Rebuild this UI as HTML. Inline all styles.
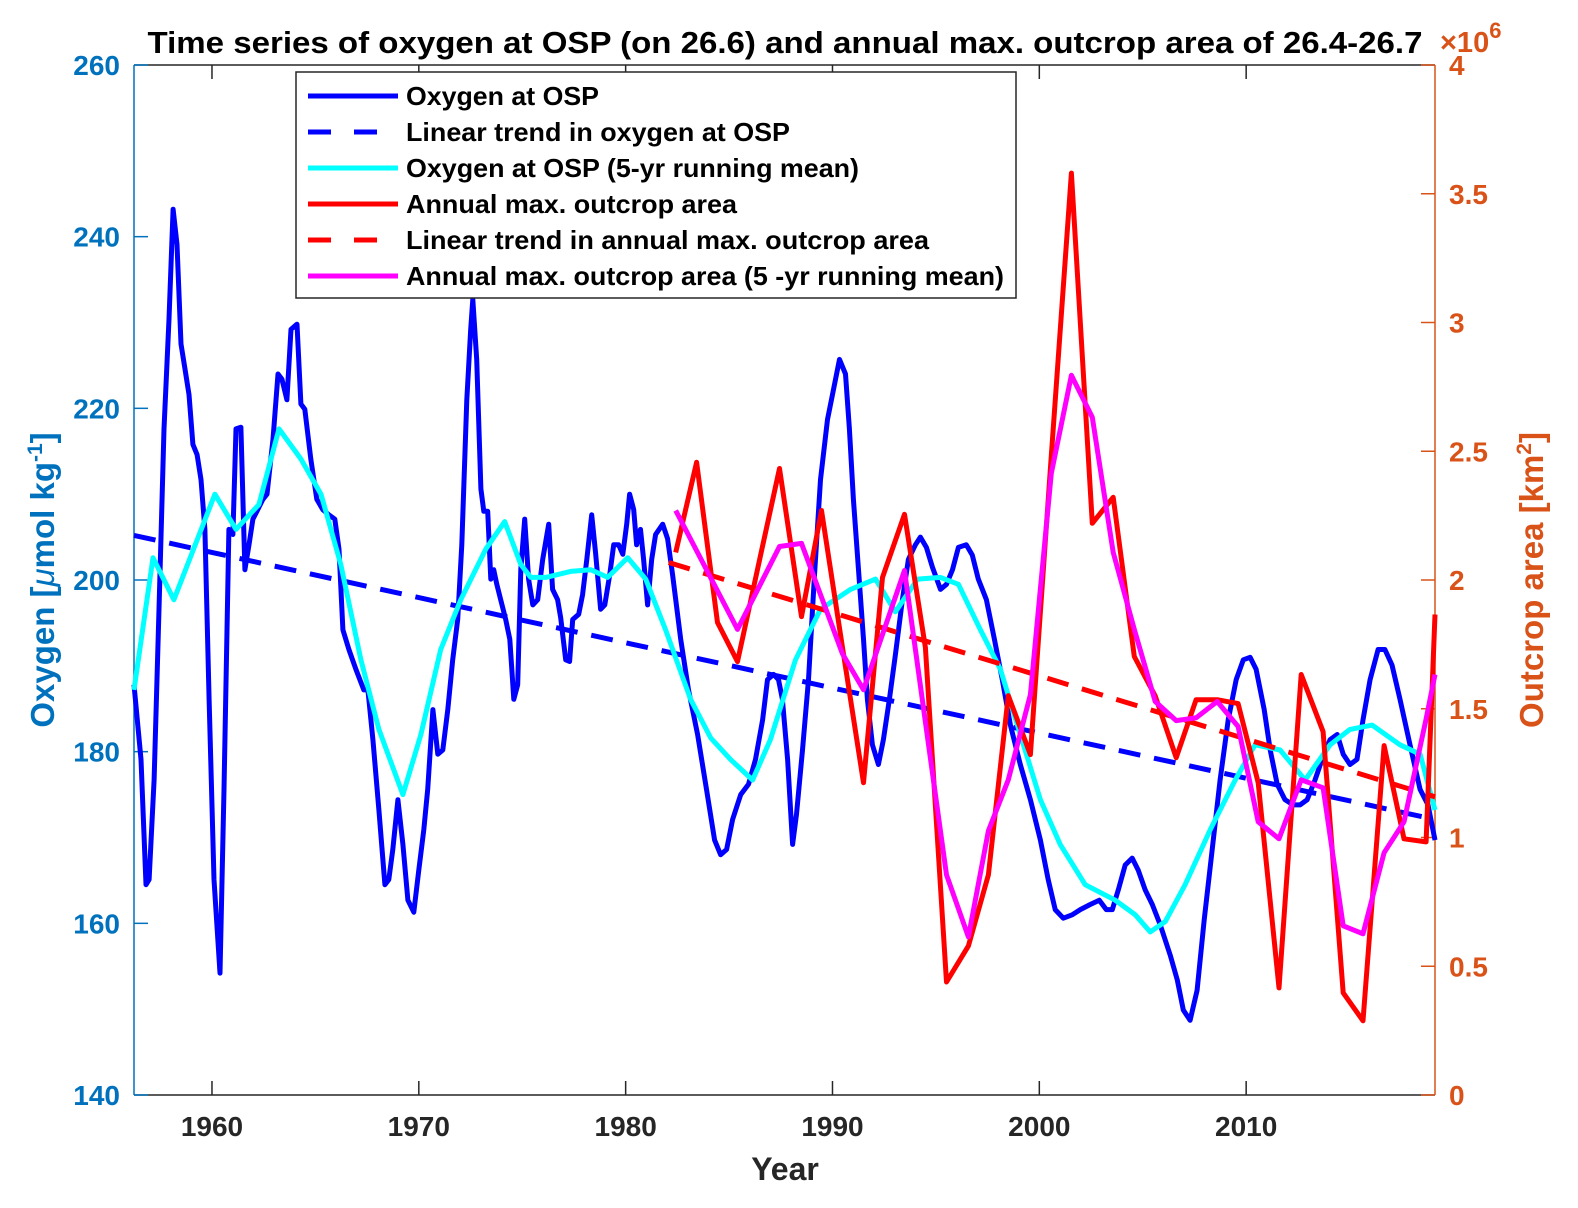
<!DOCTYPE html>
<html><head><meta charset="utf-8"><style>
html,body{margin:0;padding:0;background:#fff;width:1578px;height:1208px;overflow:hidden}
svg text{font-family:"Liberation Sans",Arial,sans-serif;font-weight:bold}
</style></head><body>
<svg id="chart" width="1578" height="1208" viewBox="0 0 1578 1208" xmlns="http://www.w3.org/2000/svg">
<text x="785" y="53" font-size="31" text-anchor="middle" fill="#000" textLength="1275" lengthAdjust="spacingAndGlyphs">Time series of oxygen at OSP (on 26.6) and annual max. outcrop area of 26.4-26.7</text>
<text x="1440" y="52" font-size="29" fill="#D95319" font-weight="normal">×10<tspan dy="-14" font-size="22">6</tspan></text>
<text x="785" y="1180" font-size="32" text-anchor="middle" fill="#262626">Year</text>
<text transform="translate(54,580) rotate(-90)" font-size="33" text-anchor="middle" fill="#0072BD">Oxygen [<tspan font-style="italic" font-weight="normal">μ</tspan>mol kg<tspan dy="-12" font-size="21">-1</tspan><tspan dy="12">]</tspan></text>
<text transform="translate(1543,580) rotate(-90)" font-size="33" text-anchor="middle" fill="#D95319">Outcrop area [km<tspan dy="-12" font-size="21">2</tspan><tspan dy="12">]</tspan></text>
<g id="axes"></g>
<g id="series"></g>
<g id="legend"></g>
</svg>
<script>
const xTicks=[1960,1970,1980,1990,2000,2010];
const leftTicks=[140,160,180,200,220,240,260];
const rightTicks=[0,0.5,1,1.5,2,2.5,3,3.5,4];
const rightTickLabels=["0","0.5","1","1.5","2","2.5","3","3.5","4"];
const oxyYears=[1956.23,1956.57,1956.81,1956.96,1957.20,1957.44,1957.68,1957.92,1958.12,1958.31,1958.50,1958.70,1958.89,1959.08,1959.28,1959.47,1959.66,1959.86,1960.10,1960.39,1960.58,1960.82,1961.01,1961.16,1961.40,1961.59,1961.79,1961.98,1962.17,1962.46,1962.66,1962.95,1963.19,1963.38,1963.62,1963.82,1964.11,1964.30,1964.49,1964.78,1965.07,1965.36,1965.65,1965.94,1966.14,1966.33,1966.62,1966.96,1967.34,1967.54,1967.78,1968.07,1968.36,1968.55,1968.74,1968.99,1969.23,1969.47,1969.76,1970.00,1970.24,1970.43,1970.68,1970.92,1971.16,1971.40,1971.64,1971.88,1972.08,1972.32,1972.51,1972.61,1972.80,1973.00,1973.14,1973.33,1973.48,1973.62,1973.77,1973.96,1974.20,1974.40,1974.59,1974.78,1974.93,1975.12,1975.31,1975.51,1975.75,1975.99,1976.28,1976.47,1976.71,1976.86,1977.10,1977.29,1977.44,1977.73,1977.92,1978.12,1978.36,1978.55,1978.79,1978.99,1979.23,1979.42,1979.66,1979.86,1980.05,1980.19,1980.39,1980.53,1980.72,1980.87,1981.06,1981.26,1981.45,1981.79,1982.03,1982.27,1982.66,1983.04,1983.48,1983.91,1984.30,1984.59,1984.88,1985.17,1985.56,1985.94,1986.28,1986.62,1986.86,1987.15,1987.39,1987.58,1987.83,1988.07,1988.26,1988.55,1988.84,1989.13,1989.42,1989.76,1990.05,1990.34,1990.63,1990.82,1991.01,1991.26,1991.50,1991.69,1991.93,1992.22,1992.46,1992.75,1993.04,1993.38,1993.67,1994.01,1994.25,1994.54,1994.83,1995.22,1995.51,1995.80,1996.09,1996.47,1996.76,1997.05,1997.44,1997.83,1998.21,1998.60,1999.08,1999.57,2000.05,2000.43,2000.77,2001.16,2001.59,2001.98,2002.46,2002.90,2003.24,2003.53,2003.82,2004.15,2004.49,2004.78,2005.12,2005.46,2005.85,2006.33,2006.67,2006.96,2007.29,2007.63,2007.97,2008.36,2008.74,2009.13,2009.52,2009.86,2010.19,2010.48,2010.87,2011.16,2011.50,2011.88,2012.27,2012.61,2012.95,2013.33,2013.67,2014.06,2014.40,2014.69,2015.02,2015.36,2015.65,2015.99,2016.38,2016.71,2017.05,2017.44,2017.92,2018.41,2018.79,2019.13];
const oxyValues=[187.8,179.1,164.5,165.1,176.7,196.6,217.6,230.4,243.2,239.1,227.5,224.5,221.6,215.8,214.6,211.7,205.9,186.1,165.1,154.2,175.6,205.9,205.3,217.6,217.8,201.2,204.1,207.1,208.0,209.4,210.0,216.4,224.0,223.4,221.0,229.2,229.8,220.5,219.9,214.1,209.4,208.2,207.6,207.1,203.6,194.2,191.9,189.6,187.2,187.2,181.4,173.2,164.5,165.1,168.6,174.4,169.2,162.7,161.3,166.2,170.9,175.6,184.9,179.7,180.2,184.9,190.7,195.4,204.1,221.0,229.2,232.7,225.7,210.6,208.0,208.0,200.1,201.2,199.5,197.7,195.4,193.1,186.1,187.8,201.2,207.1,200.1,197.1,197.7,202.4,206.5,198.9,197.7,195.6,190.7,190.5,195.4,196.0,198.3,202.4,207.6,203.0,196.6,197.1,200.6,204.1,204.1,203.0,206.5,210.0,208.2,204.1,205.9,202.4,197.1,202.4,205.3,206.5,204.8,200.6,193.1,187.2,182.0,175.6,169.7,168.0,168.6,172.1,175.0,176.2,179.1,183.7,188.4,189.0,188.4,186.1,179.1,169.2,172.7,180.2,188.4,200.6,211.7,218.7,222.2,225.7,224.0,217.6,209.4,201.2,193.1,186.1,180.8,178.5,181.4,186.1,191.3,197.7,202.4,204.1,205.0,203.8,201.5,198.9,199.5,201.2,203.8,204.1,202.9,200.1,197.7,193.1,188.4,183.1,178.5,174.4,169.7,165.1,161.6,160.6,161.0,161.6,162.2,162.7,161.6,161.6,163.9,166.8,167.6,166.2,163.9,162.2,159.8,156.3,153.4,149.9,148.7,152.2,160.4,168.6,176.7,183.7,188.4,190.7,191.0,189.6,184.9,180.2,176.2,174.4,173.8,173.8,174.4,176.7,179.1,181.4,182.0,179.7,178.5,179.1,183.7,188.4,191.9,191.9,190.1,186.1,180.8,175.6,173.8,169.7];
const oxyTrendYears=[1956.23,2019.13];
const oxyTrendValues=[205.2,172.1];
const oxyMeanYears=[1956.23,1957.15,1958.16,1960.14,1961.16,1962.27,1963.24,1964.30,1965.27,1966.23,1967.20,1968.07,1969.23,1970.10,1971.06,1972.03,1973.24,1974.15,1974.93,1975.41,1976.14,1977.34,1978.31,1979.13,1980.10,1980.97,1981.93,1983.14,1984.11,1985.07,1986.14,1987.00,1988.21,1989.42,1990.87,1992.08,1993.04,1994.11,1995.22,1996.09,1997.15,1998.12,1999.08,2000.05,2001.01,2002.22,2003.67,2004.64,2005.36,2006.09,2007.05,2008.26,2009.47,2010.43,2011.64,2012.85,2014.06,2015.02,2016.09,2017.44,2018.41,2019.13];
const oxyMeanValues=[187.2,202.6,197.7,210.0,205.9,208.8,217.6,214.1,210.0,201.8,190.7,182.6,175.0,182.0,191.9,197.7,203.6,206.8,201.8,200.3,200.3,201.0,201.2,200.3,202.6,200.1,194.2,186.1,181.6,179.1,176.7,181.4,190.7,196.6,198.9,200.1,196.3,200.1,200.3,199.5,194.2,189.6,182.0,174.4,169.2,164.5,162.7,161.0,159.0,160.2,164.5,170.9,176.7,180.8,180.2,176.7,180.8,182.6,183.1,180.8,179.7,173.2];
const areaYears=[1982.42,1983.43,1984.44,1985.41,1986.45,1987.44,1988.50,1989.47,1990.48,1991.50,1992.42,1993.48,1994.49,1995.51,1996.57,1997.54,1998.50,1999.57,2000.56,2001.55,2002.56,2003.57,2004.59,2005.60,2006.62,2007.58,2008.60,2009.61,2010.58,2011.59,2012.66,2013.72,2014.69,2015.65,2016.67,2017.63,2018.70,2019.13];
const areaValues=[2.107,2.457,1.835,1.683,2.07,2.433,1.858,2.270,1.74,1.213,2.010,2.255,1.738,0.439,0.579,0.855,1.551,1.322,2.46,3.580,2.220,2.321,1.703,1.55,1.310,1.535,1.535,1.520,1.213,0.416,1.633,1.411,0.397,0.288,1.357,0.995,0.983,1.866];
const areaTrendYears=[1982.08,2019.13];
const areaTrendValues=[2.068,1.158];
const areaMeanYears=[1982.42,1985.41,1987.44,1988.50,1990.48,1991.50,1993.48,1995.51,1996.57,1997.54,1998.50,1999.57,2000.58,2001.55,2002.56,2003.57,2004.59,2005.60,2006.62,2007.58,2008.60,2009.61,2010.58,2011.59,2012.66,2013.72,2014.69,2015.65,2016.67,2017.63,2018.70,2019.13];
const areaMeanValues=[2.270,1.808,2.130,2.142,1.714,1.574,2.037,0.855,0.614,1.026,1.224,1.555,2.414,2.795,2.632,2.107,1.808,1.528,1.454,1.465,1.528,1.431,1.061,0.995,1.224,1.193,0.657,0.626,0.941,1.061,1.46,1.633];
const legendLabels=["Oxygen at OSP","Linear trend in oxygen at OSP","Oxygen at OSP (5-yr running mean)","Annual max. outcrop area","Linear trend in annual max. outcrop area","Annual max. outcrop area (5 -yr running mean)"];

(function(){
const L=134,R=1435,T=65,B=1095;
const X0=1956.23,X1=2019.13;
const xs=v=>L+(v-X0)/(X1-X0)*(R-L);
const yl=v=>B-(v-140)/120*(B-T);
const yr=v=>B-v/4*(B-T);
const NS="http://www.w3.org/2000/svg";
function mk(tag,attrs,parent){const e=document.createElementNS(NS,tag);for(const k in attrs)e.setAttribute(k,attrs[k]);parent.appendChild(e);return e;}
const axes=document.getElementById('axes');
const series=document.getElementById('series');
const legend=document.getElementById('legend');

let bgRect=mk('rect',{x:L,y:T,width:R-L,height:B-T,fill:'#fff'},axes);


let topLine=mk('line',{x1:L,y1:T,x2:R,y2:T,stroke:'#262626','stroke-width':1.5},axes);


let botLine=mk('line',{x1:L,y1:B,x2:R,y2:B,stroke:'#262626','stroke-width':1.5},axes);


let leftLine=mk('line',{x1:L,y1:T,x2:L,y2:B,stroke:'#0072BD','stroke-width':1.5},axes);


let rightLine=mk('line',{x1:R,y1:T,x2:R,y2:B,stroke:'#D95319','stroke-width':1.5},axes);



xTicks.forEach(t=>{
  const x=xs(t);
  let a=mk('line',{x1:x,y1:B,x2:x,y2:B-14,stroke:'#262626','stroke-width':1.5},axes);
  
  
  let b=mk('line',{x1:x,y1:T,x2:x,y2:T+14,stroke:'#262626','stroke-width':1.5},axes);
  
  
  let tx=mk('text',{x:x,y:B+41,'font-size':28,'text-anchor':'middle',fill:'#262626'},axes);
  tx.textContent=t;
  
  
});
leftTicks.forEach(t=>{
  const y=yl(t);
  let a=mk('line',{x1:L,y1:y,x2:L+14,y2:y,stroke:'#0072BD','stroke-width':1.5},axes);
  
  
  let tx=mk('text',{x:L-14,y:y+10,'font-size':28,'text-anchor':'end',fill:'#0072BD'},axes);
  tx.textContent=t;
  
  
});
rightTicks.forEach((t,i)=>{
  const y=yr(t);
  let a=mk('line',{x1:R,y1:y,x2:R-14,y2:y,stroke:'#D95319','stroke-width':1.5},axes);
  
  
  let tx=mk('text',{x:R+14,y:y+10,'font-size':28,'text-anchor':'start',fill:'#D95319'},axes);
  tx.textContent=rightTickLabels[i];
  
  
});

function drawLine(xv,yv,ys,color,dash,name){
  const d=xv.map((v,i)=>(i?'L':'M')+xs(v).toFixed(1)+','+ys(yv[i]).toFixed(1)).join('');
  const attrs={d:d,fill:'none',stroke:color,'stroke-width':5,'stroke-linejoin':'round'};
  if(dash)attrs['stroke-dasharray']=dash;
  const p=mk('path',attrs,series);
  
  
}
drawLine(oxyYears,oxyValues,yl,'#0000FF',null,'oxygen-line');
drawLine(oxyTrendYears,oxyTrendValues,yl,'#0000FF','22,14','oxygen-trend-line');
drawLine(oxyMeanYears,oxyMeanValues,yl,'#00FFFF',null,'oxygen-running-mean-line');
drawLine(areaYears,areaValues,yr,'#FF0000',null,'outcrop-area-line');
drawLine(areaTrendYears,areaTrendValues,yr,'#FF0000','22,14','outcrop-trend-line');
drawLine(areaMeanYears,areaMeanValues,yr,'#FF00FF',null,'outcrop-running-mean-line');

let lbox=mk('rect',{x:296,y:72,width:720,height:226,fill:'#fff',stroke:'#262626','stroke-width':1.5},legend);


const lc=['#0000FF','#0000FF','#00FFFF','#FF0000','#FF0000','#FF00FF'];
const ld=[null,'23,23',null,null,'23,23',null];
const lw=[193,384,453,331,523,598];
legendLabels.forEach((s,i)=>{
  const y=96+i*36;
  const a={x1:308,y1:y,x2:398,y2:y,stroke:lc[i],'stroke-width':5};
  if(ld[i])a['stroke-dasharray']=ld[i];
  let l=mk('line',a,legend);
  
  
  let t=mk('text',{x:406,y:y+9,'font-size':26,fill:'#000',textLength:lw[i],lengthAdjust:'spacingAndGlyphs'},legend);
  t.textContent=s;
  
  
});
})();
</script>
</body></html>
